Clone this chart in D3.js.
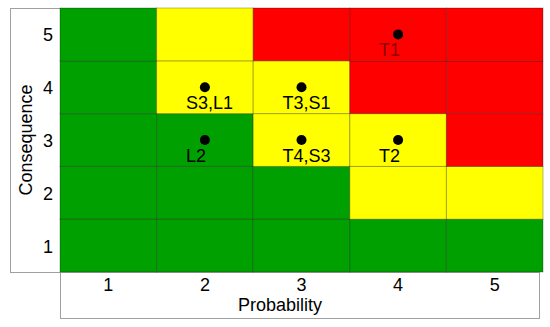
<!DOCTYPE html>
<html>
<head>
<meta charset="utf-8">
<script src="https://cdn.jsdelivr.net/npm/d3@7"></script>
<style>
  body { margin: 0; background: #fff; }
  text { font-family: "Liberation Sans", Arial, sans-serif; }
</style>
</head>
<body>
<svg id="riskMatrix"></svg>
<script>
// axis categories
var probability = [1, 2, 3, 4, 5];
var consequence = [1, 2, 3, 4, 5];

// risk level per cell, rows = consequence 1..5, cols = probability 1..5
// 0 = low (green), 1 = medium (yellow), 2 = high (red)
var riskLevels = [
    [0, 0, 0, 0, 0],
    [0, 0, 0, 1, 1],
    [0, 0, 1, 1, 2],
    [0, 1, 1, 2, 2],
    [0, 1, 2, 2, 2]
];
var levelColors = ["#00a000", "#ffff00", "#ff0000"];

// plotted hazards
var pointLabels = ["T1", "S3,L1", "T3,S1", "L2", "T4,S3", "T2"];
var pointProb = [4, 2, 3, 2, 3, 4];
var pointCons = [5, 4, 4, 3, 3, 3];

var totalWidth = 550;
var totalHeight = 327;
var margin = { top: 8, right: 7, bottom: 55, left: 60 };
var width = totalWidth - margin.left - margin.right;
var height = totalHeight - margin.top - margin.bottom;

var svg = d3.select("#riskMatrix")
    .attr("width", totalWidth)
    .attr("height", totalHeight);

var x = d3.scaleBand().domain(probability).range([margin.left, margin.left + width]);
var y = d3.scaleBand().domain(consequence.slice().reverse()).range([margin.top, margin.top + height]);

// axis frames
svg.append("rect")
    .attr("x", 10.5).attr("y", margin.top + 0.5)
    .attr("width", margin.left - 10).attr("height", height)
    .attr("fill", "none").attr("stroke", "#a0a0a0");
svg.append("rect")
    .attr("x", margin.left + 0.5).attr("y", margin.top + height + 0.5)
    .attr("width", width - 4).attr("height", 46)
    .attr("fill", "none").attr("stroke", "#a0a0a0");

// cells
var cells = [];
consequence.forEach(function (c, i) {
    probability.forEach(function (p, j) {
        cells.push({ p: p, c: c, level: riskLevels[i][j] });
    });
});

svg.selectAll(".cell")
    .data(cells)
    .enter()
    .append("rect")
    .attr("class", "cell")
    .attr("x", function (d) { return x(d.p); })
    .attr("y", function (d) { return y(d.c); })
    .attr("width", x.bandwidth())
    .attr("height", y.bandwidth())
    .attr("fill", function (d) { return levelColors[d.level]; })
    .attr("stroke", "rgba(0,0,0,0.28)")
    .attr("stroke-width", 1);

// tick labels
svg.selectAll(".ytick")
    .data(consequence)
    .enter()
    .append("text")
    .attr("x", 53)
    .attr("y", function (d) { return y(d) + y.bandwidth() / 2 + 7; })
    .attr("text-anchor", "end")
    .attr("font-size", 18)
    .text(function (d) { return d; });

svg.selectAll(".xtick")
    .data(probability)
    .enter()
    .append("text")
    .attr("x", function (d) { return x(d) + x.bandwidth() / 2; })
    .attr("y", margin.top + height + 19)
    .attr("text-anchor", "middle")
    .attr("font-size", 18)
    .text(function (d) { return d; });

// axis titles
svg.append("text")
    .attr("x", 280)
    .attr("y", margin.top + height + 39)
    .attr("text-anchor", "middle")
    .attr("font-size", 18)
    .text("Probability");

svg.append("text")
    .attr("transform", "translate(32," + (margin.top + height / 2) + ") rotate(-90)")
    .attr("text-anchor", "middle")
    .attr("font-size", 18)
    .text("Consequence");

// points
var points = pointLabels.map(function (l, i) {
    return { label: l, p: pointProb[i], c: pointCons[i] };
});

svg.selectAll(".dot")
    .data(points)
    .enter()
    .append("circle")
    .attr("cx", function (d) { return x(d.p) + x.bandwidth() / 2; })
    .attr("cy", function (d) { return y(d.c) + y.bandwidth() / 2; })
    .attr("r", 5)
    .attr("fill", "#000");

svg.selectAll(".plabel")
    .data(points)
    .enter()
    .append("text")
    .attr("x", function (d) { return x(d.p) + x.bandwidth() / 2 - 19; })
    .attr("y", function (d) { return y(d.c) + y.bandwidth() / 2 + 22; })
    .attr("font-size", 18)
    .attr("fill", function (d) { return riskLevels[d.c - 1][d.p - 1] == 2 ? "#900000" : "#000"; })
    .text(function (d) { return d.label; });
</script>
</body>
</html>
